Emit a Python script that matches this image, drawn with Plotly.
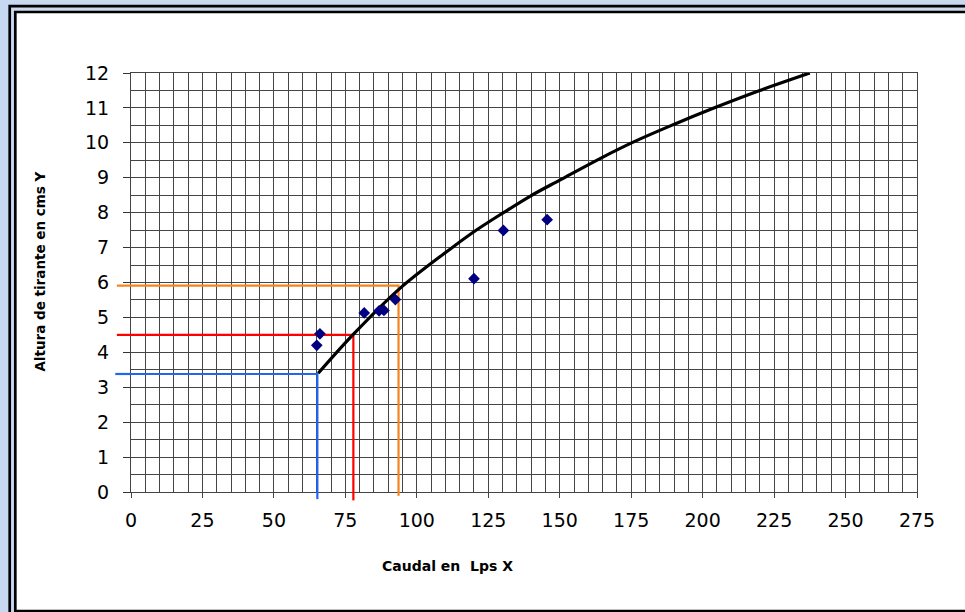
import plotly.graph_objects as go

# Measured flow (Lps) vs. water depth (cm)
caudal = [65.0, 66.1, 81.6, 86.8, 88.5, 92.5, 120.0, 130.3, 145.6]
altura = [4.20, 4.53, 5.13, 5.19, 5.20, 5.51, 6.11, 7.49, 7.80]

# Rating curve (trend line) points
curva_x = [65.5, 77.6, 94.2, 112.2, 121.0, 130.3, 139.6, 150.2, 164.1, 175.7, 189.7, 203.7, 220.0, 237.5]
curva_y = [3.40, 4.50, 5.84, 6.99, 7.51, 8.00, 8.47, 8.94, 9.55, 10.02, 10.52, 10.99, 11.50, 12.00]

# Read-off guides: flow and depth for each reading
guia_q = [65.2, 77.8, 93.6]
guia_h = [3.38, 4.50, 5.91]
guia_color = ["#1f66f0", "#ff0000", "#f5841f"]
guia_stub_x = [0.020, 0.018, 0.018]
guia_stub_y = [0.017, 0.020, 0.009]

x_ticks = list(range(0, 276, 25))
y_ticks = list(range(0, 13))

GRID = "#454545"

fig = go.Figure()

# guide lines inside the plot area
for q, h, c in zip(guia_q, guia_h, guia_color):
    fig.add_trace(go.Scatter(x=[0, q, q], y=[h, h, 0], mode="lines",
                             line=dict(color=c, width=2.2), hoverinfo="skip",
                             showlegend=False))

fig.add_trace(go.Scatter(x=curva_x, y=curva_y, mode="lines",
                         line=dict(color="black", width=3.2, shape="spline", smoothing=1.0),
                         showlegend=False))

fig.add_trace(go.Scatter(x=caudal, y=altura, mode="markers",
                         marker=dict(symbol="diamond", size=9, color="#000080"),
                         showlegend=False))

shapes = [
    # outer frame
    dict(type="rect", xref="paper", yref="paper", x0=-0.1543, x1=1.08, y0=-0.35, y1=1.1594,
         line=dict(color="black", width=2.7), fillcolor="#c9d9ee", layer="below"),
    # inner frame
    dict(type="rect", xref="paper", yref="paper", x0=-0.1472, x1=1.08, y0=-0.2840, y1=1.1456,
         line=dict(color="black", width=2.7), fillcolor="white", layer="below"),
]

# guide stubs extending past the axes
for q, h, c, sx, sy in zip(guia_q, guia_h, guia_color, guia_stub_x, guia_stub_y):
    shapes.append(dict(type="line", xref="x domain", yref="y", x0=-sx, x1=0, y0=h, y1=h,
                       line=dict(color=c, width=2.2)))
    shapes.append(dict(type="line", xref="x", yref="y domain", x0=q, x1=q, y0=0, y1=-sy,
                       line=dict(color=c, width=2.2)))

fig.update_layout(
    width=965, height=612,
    margin=dict(l=131, r=48, t=73, b=120),
    paper_bgcolor="#c6d9f0",
    plot_bgcolor="white",
    shapes=shapes,
    showlegend=False,
    xaxis=dict(range=[0, 275], tickmode="array", tickvals=x_ticks,
               ticktext=[str(v) for v in x_ticks],
               showgrid=True, gridcolor=GRID, gridwidth=1,
               minor=dict(dtick=5, tick0=0, showgrid=True, gridcolor=GRID, gridwidth=1),
               ticks="outside", ticklen=5, tickcolor="#444", tickwidth=1,
               showline=True, mirror=True, linecolor="#444", linewidth=1, zeroline=False,
               ticklabelstandoff=6,
               tickfont=dict(family="DejaVu Sans", size=19, color="black")),
    yaxis=dict(range=[0, 12], tickmode="array", tickvals=y_ticks,
               ticktext=[str(v) for v in y_ticks],
               showgrid=True, gridcolor=GRID, gridwidth=1,
               minor=dict(dtick=0.5, tick0=0, showgrid=True, gridcolor=GRID, gridwidth=1),
               ticks="outside", ticklen=7, tickcolor="#333", tickwidth=1,
               showline=True, mirror=True, linecolor="#444", linewidth=1, zeroline=False,
               ticklabelstandoff=10,
               tickfont=dict(family="DejaVu Sans", size=19, color="black")),
    annotations=[
        dict(text="Caudal en\u00a0 Lps X", xref="paper", yref="paper", x=0.4033, y=-0.1766,
             showarrow=False, xanchor="center", yanchor="middle",
             font=dict(family="DejaVu Sans", size=14, color="black", weight="bold")),
        dict(text="Altura de tirante en cms Y", xref="paper", yref="paper", x=-0.1158, y=0.526,
             showarrow=False, xanchor="center", yanchor="middle", textangle=-90,
             font=dict(family="DejaVu Sans", size=13.5, color="black", weight="bold")),
    ],
)

fig.write_html("out.html")
